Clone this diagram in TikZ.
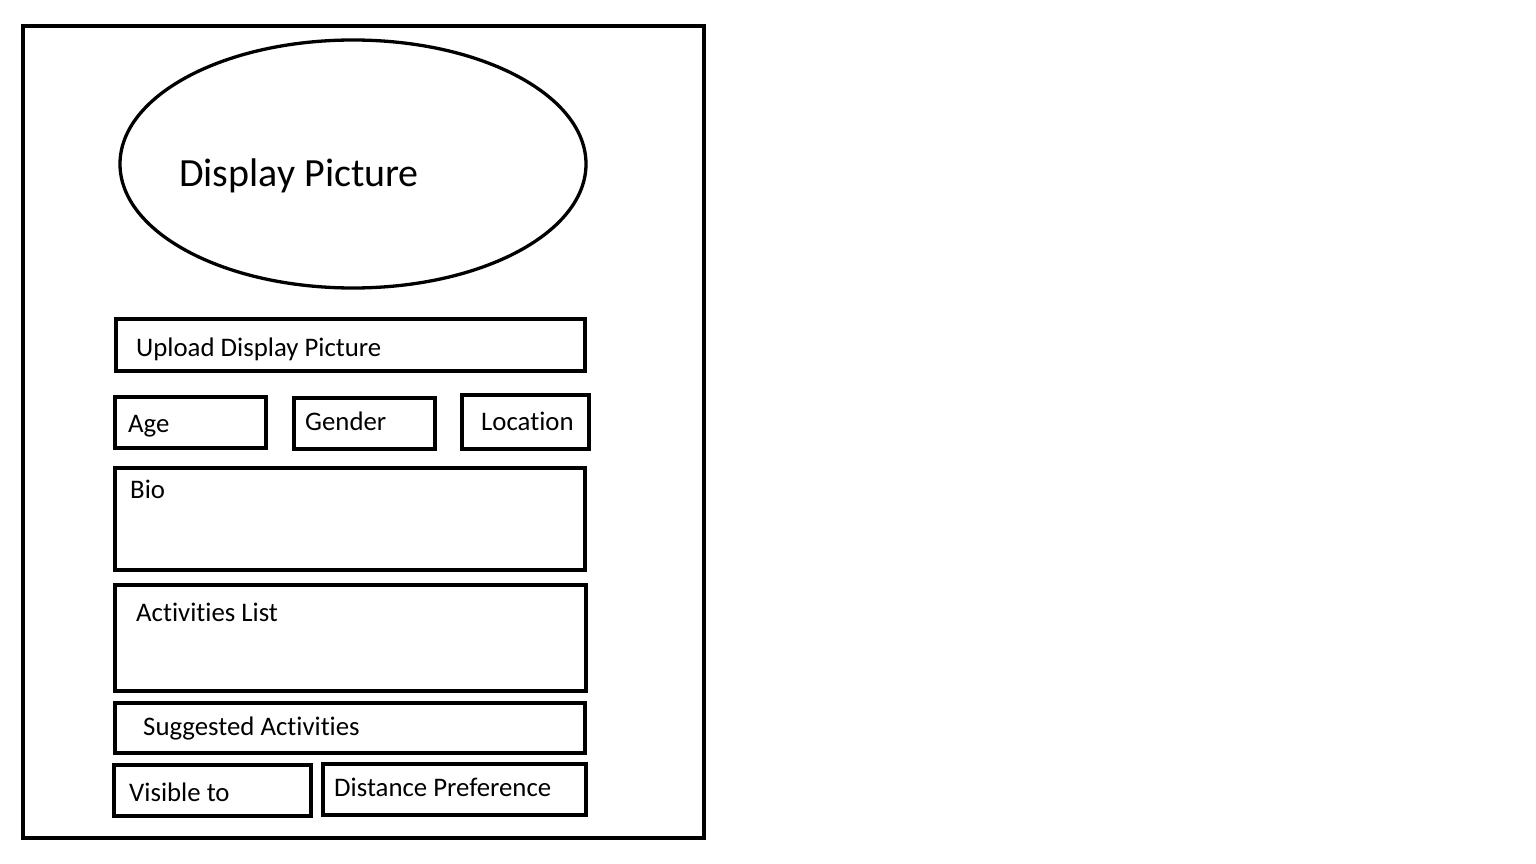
\documentclass[tikz,border=0pt]{standalone}
\usepackage{fontspec}
\setmainfont[Ligatures=NoCommon]{Carlito}
\usetikzlibrary{calc}

\tikzset{
 fieldbox/.style={draw=black, line width=4.5pt},
 fieldtext/.style={anchor=base west, inner sep=0, font=\fontsize{26.8}{30}\selectfont},
}

\begin{document}
\begin{tikzpicture}[x=1pt, y=-1pt]
\useasboundingbox (0,0) rectangle (1536,864);
\draw[black, line width=4.2pt] (23,26) rectangle (704,838);
\draw[black, line width=3.3pt] (353,164) ellipse [x radius=233, y radius=124];
\node[fieldtext, font=\fontsize{40}{46}\selectfont] (dp) at (179,186) {Display Picture};
% form fields: corners, then label
\foreach \a/\b/\c/\d in {116/319/585/371, 115/397/266/448, 294/398/435/449, 462/395/589/449,
  115/468/585/570, 115/585/586/691, 115/703/585/753, 114/765/311/816, 323/764/586/815} {
 \draw[fieldbox] (\a,\b) rectangle (\c,\d);
}
\node[fieldtext] (upload) at (136,356) {Upload Display Picture};
\node[fieldtext] (age) at (128,432) {Age};
\node[fieldtext] (gender) at (305,430) {Gender};
\node[fieldtext] (loc) at (481,430) {Location};
\node[fieldtext] (bio) at (130,498) {Bio};
\node[fieldtext] (act) at (136,621) {Activities List};
\node[fieldtext] (sugg) at (143,735) {Suggested Activities};
\node[fieldtext] (vis) at (129,801) {Visible to};
\node[fieldtext] (dist) at (334,796) {Distance Preference};
\end{tikzpicture}
\end{document}
